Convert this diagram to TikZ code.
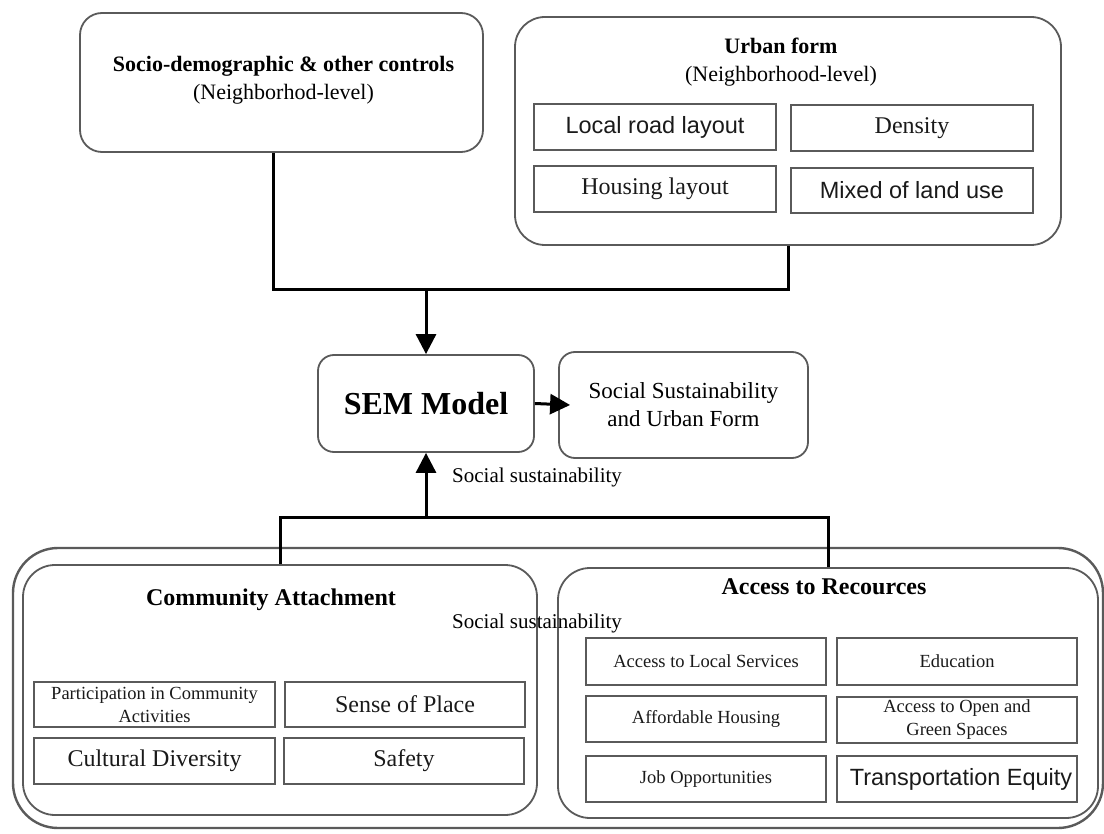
\documentclass[tikz,border=0pt]{standalone}
\usepackage{fontspec}
\setmainfont{Liberation Serif}
\newfontfamily\arialf{Liberation Sans}
\usetikzlibrary{arrows.meta}
\definecolor{bd}{HTML}{5A5A5A}
\definecolor{tx}{HTML}{1A1A1A}
\begin{document}
\begin{tikzpicture}[x=1pt,y=-1pt,
  rbox/.style={draw=bd, line width=1.8pt, rounded corners=22pt, inner sep=0pt},
  ibox/.style={draw=bd, line width=1.8pt, inner sep=0pt, align=center, text=tx,
    font=\fontsize{24}{28}\selectfont},
  sbox/.style={ibox, font=\fontsize{18.5}{23}\selectfont},
  abox/.style={ibox, font=\fontsize{23.5}{28}\arialf\selectfont},
  ttl/.style={align=center, inner sep=0pt, font=\fontsize{22}{28}\selectfont},
  conn/.style={line width=3pt, black},
  arr/.style={conn, -{Triangle[length=20pt,width=20pt]}}
]
\useasboundingbox (0,0) rectangle (1104,834);

% top boxes
\node[rbox, minimum width=403pt, minimum height=139pt] (socio) at (281.5,82.5) {};
\node[ttl] (sociot) at (283.5,80) {\textbf{Socio-demographic \& other controls}\\(Neighborhod-level)};

\node[rbox, rounded corners=30pt, minimum width=546pt, minimum height=228pt] (urban) at (788,131) {};
\node[ttl] (urbant) at (781,62) {\textbf{Urban form}\\(Neighborhood-level)};
\node[abox, minimum width=242pt, minimum height=46pt] (road) at (655,127) {Local road layout};
\node[ibox, minimum width=242pt, minimum height=46pt] (dens) at (912,128) {Density};
\node[ibox, minimum width=242pt, minimum height=46pt] (hous) at (655,189) {Housing layout};
\node[abox, minimum width=242pt, minimum height=45pt] (mix) at (912,190.5) {Mixed of land use};

% middle
\node[rbox, rounded corners=16pt, minimum width=216pt, minimum height=97pt,
  font=\fontsize{32}{36}\selectfont\bfseries] (sem) at (426,403.5) {SEM Model};
\node[rbox, rounded corners=16pt, minimum width=249pt, minimum height=106pt,
  align=center, font=\fontsize{23}{28}\selectfont] (soc) at (683.5,405) {Social Sustainability\\and Urban Form};

\coordinate (top) at (426,290);
\draw[conn] ([xshift=-8pt]socio.south) |- (top) -| (urban.south);
\draw[arr] (top) -- (sem.north);
\draw[arr] (sem.east) -- ([xshift=12pt]soc.west);

\node[anchor=west, inner sep=0pt, font=\fontsize{21}{24}\selectfont] (lab1) at (452,477) {Social sustainability};

% bottom
\node[rbox, rounded corners=45pt, line width=2.4pt, minimum width=1090pt, minimum height=280pt] (outer) at (558,688) {};
\node[rbox, rounded corners=32pt, minimum width=514pt, minimum height=250pt] (comm) at (280,690) {};
\node[rbox, rounded corners=32pt, minimum width=540pt, minimum height=250pt] (acc) at (828,693) {};

\coordinate (bot) at (426,517);
\draw[arr] (bot) -- (sem.south);
\draw[conn] (comm.north) |- (bot) -| (acc.north);

\node[ttl, font=\fontsize{24}{28}\selectfont\bfseries] (commt) at (271,600) {Community Attachment};
\node[ttl, font=\fontsize{24}{28}\selectfont\bfseries] (acct) at (824,587) {Access to Recources};
\node[anchor=west, inner sep=0pt, font=\fontsize{21}{24}\selectfont] (lab2) at (452,623) {Social sustainability};

\node[sbox, minimum width=241pt, minimum height=45pt] (part) at (154.5,704.5) {Participation in Community\\Activities};
\node[ibox, minimum width=240pt, minimum height=45pt] (sense) at (405,704.5) {Sense of Place};
\node[ibox, minimum width=241pt, minimum height=46pt] (cult) at (154.5,761) {Cultural Diversity};
\node[ibox, minimum width=240pt, minimum height=46pt] (safe) at (404,761) {Safety};

\node[sbox, minimum width=240pt, minimum height=47pt] (serv) at (706,661.5) {Access to Local Services};
\node[sbox, minimum width=240pt, minimum height=47pt] (edu) at (957,661.5) {Education};
\node[sbox, minimum width=240pt, minimum height=46pt] (aff) at (706,719) {Affordable Housing};
\node[sbox, minimum width=240pt, minimum height=46pt] (open) at (957,720) {Access to Open and\\Green Spaces};
\node[sbox, minimum width=240pt, minimum height=46pt] (job) at (706,779) {Job Opportunities};
\node[abox, minimum width=240pt, minimum height=46pt] (trans) at (957,779) {\hspace*{8pt}Transportation Equity};
\end{tikzpicture}
\end{document}
